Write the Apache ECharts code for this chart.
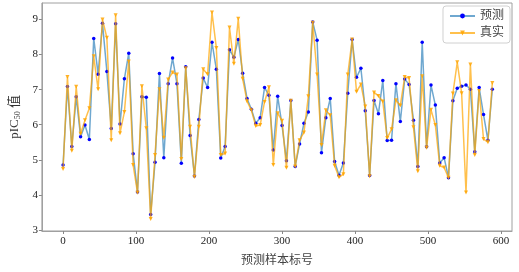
<!DOCTYPE html>
<html><head><meta charset="utf-8">
<script src="https://cdn.jsdelivr.net/npm/echarts@6/dist/echarts.min.js"></script>
<style>html,body{margin:0;padding:0;background:#fff}#c{width:519px;height:272px}</style>
</head><body><div id="c"></div>
<script>
const sampleIdx = [0,6,12,18,24,30,36,42,48,54,60,66,72,78,84,90,96,102,108,114,120,126,132,138,144,150,156,162,168,174,180,186,192,198,204,210,216,222,228,234,240,246,252,258,264,270,276,282,288,294,300,306,312,318,324,330,336,342,348,354,360,366,372,378,384,390,396,402,408,414,420,426,432,438,444,450,456,462,468,474,480,486,492,498,504,510,516,522,528,534,540,546,552,558,564,570,576,582,588];
const predicted = [4.85,7.09,5.38,6.80,5.66,5.99,5.58,8.46,7.44,8.89,7.52,5.89,8.88,6.02,7.31,8.04,5.17,4.08,6.80,6.78,3.44,4.93,7.46,5.06,7.17,7.90,7.17,4.90,7.65,5.69,4.54,6.15,7.33,7.06,8.35,7.58,5.05,5.38,8.14,7.92,8.43,7.47,6.75,6.44,6.04,6.20,7.06,6.84,5.28,6.81,5.98,4.97,6.69,4.81,5.45,6.04,6.36,8.93,8.41,5.20,6.20,6.75,4.95,4.56,4.91,6.90,8.43,7.35,7.61,6.40,4.55,6.69,6.31,7.26,5.55,5.56,7.17,6.09,7.30,7.15,6.13,4.81,8.35,5.37,7.13,6.56,4.91,5.06,4.49,6.68,7.04,7.10,7.13,7.01,5.23,7.06,6.29,5.56,7.01];
const actual = [4.74,7.36,5.26,7.08,5.74,6.13,6.47,7.95,7.01,9.00,8.48,5.56,9.12,5.76,6.36,7.80,4.85,4.06,7.10,5.90,3.31,5.14,7.01,5.63,7.29,7.49,7.43,5.02,7.61,5.94,4.51,5.94,7.58,7.44,9.20,8.19,5.14,5.18,8.77,7.74,9.02,7.31,6.67,6.41,5.96,5.99,6.65,7.07,4.85,6.33,6.11,4.77,6.68,4.81,5.56,5.78,6.81,8.91,7.43,5.42,6.41,6.27,4.83,4.50,4.59,7.43,8.43,6.94,7.15,6.52,4.53,6.92,6.82,6.66,5.62,5.87,6.70,6.55,7.36,7.33,5.93,4.67,7.38,5.34,6.43,5.99,4.83,4.78,4.49,6.89,7.78,6.90,4.07,7.72,5.14,6.96,5.59,5.50,7.19];
const xTicks = [0,100,200,300,400,500,600];
const yTicks = [3,4,5,6,7,8,9];
const seriesNames = ['预测','真实'];

const serif = '"Liberation Serif","DejaVu Serif",serif';
const cjk = '"Liberation Serif","Noto Sans CJK SC",serif';
const chart = echarts.init(document.getElementById('c'), null, {renderer:'canvas'});
chart.setOption({
  animation:false,
  backgroundColor:'#fff',
  grid:{left:35,right:7,top:3,bottom:35,show:true,borderColor:'#a0a0a0',borderWidth:1},
  legend:{
    orient:'vertical', right:9, top:6, itemWidth:25, itemHeight:6, itemGap:5,
    backgroundColor:'#fff', borderColor:'#d0d0d0', borderWidth:1, borderRadius:3, padding:[4,6,4,6],
    textStyle:{fontFamily:cjk,fontSize:12,color:'#444'},
    data:seriesNames
  },
  xAxis:{
    type:'value', min:-29, max:615,
    name:'预测样本标号', nameLocation:'middle', nameGap:24,
    nameTextStyle:{fontFamily:cjk,fontSize:12,color:'#444'},
    axisLine:{show:true,onZero:false,lineStyle:{color:'#a0a0a0'}},
    axisTick:{show:true,length:3,customValues:xTicks,lineStyle:{color:'#888'}},
    axisLabel:{customValues:xTicks,fontFamily:serif,fontSize:11,color:'#222',margin:5},
    splitLine:{show:false}
  },
  yAxis:{
    type:'value', min:2.97, max:9.47,
    name:'pIC{sub|50} 值', nameLocation:'middle', nameGap:20, nameRotate:90,
    nameTextStyle:{fontFamily:cjk,fontSize:13,color:'#333',rich:{sub:{fontSize:8,fontFamily:serif,color:'#333',verticalAlign:'bottom',padding:[6,0,0,0]}}},
    axisLine:{show:true,onZero:false,lineStyle:{color:'#a0a0a0'}},
    axisTick:{show:true,length:3,customValues:yTicks,lineStyle:{color:'#888'}},
    axisLabel:{customValues:yTicks,fontFamily:serif,fontSize:11,color:'#222',margin:4},
    splitLine:{show:false}
  },
  series:[
    {name:seriesNames[0], type:'line', data:sampleIdx.map((x,i)=>[x,predicted[i]]),
     symbol:'circle', symbolSize:3.5, showSymbol:true,
     lineStyle:{color:'#6fa8d0',width:1.5}, itemStyle:{color:'#0000ff'}, color:'#6fa8d0', z:2},
    {name:seriesNames[1], type:'line', data:sampleIdx.map((x,i)=>[x,actual[i]]),
     symbol:'triangle', symbolRotate:180, symbolSize:4, showSymbol:true,
     lineStyle:{color:'#ffa500',width:1.5,opacity:0.7}, itemStyle:{color:'#ffa500',opacity:0.85}, color:'#ffa500', z:3}
  ]
});
</script></body></html>
